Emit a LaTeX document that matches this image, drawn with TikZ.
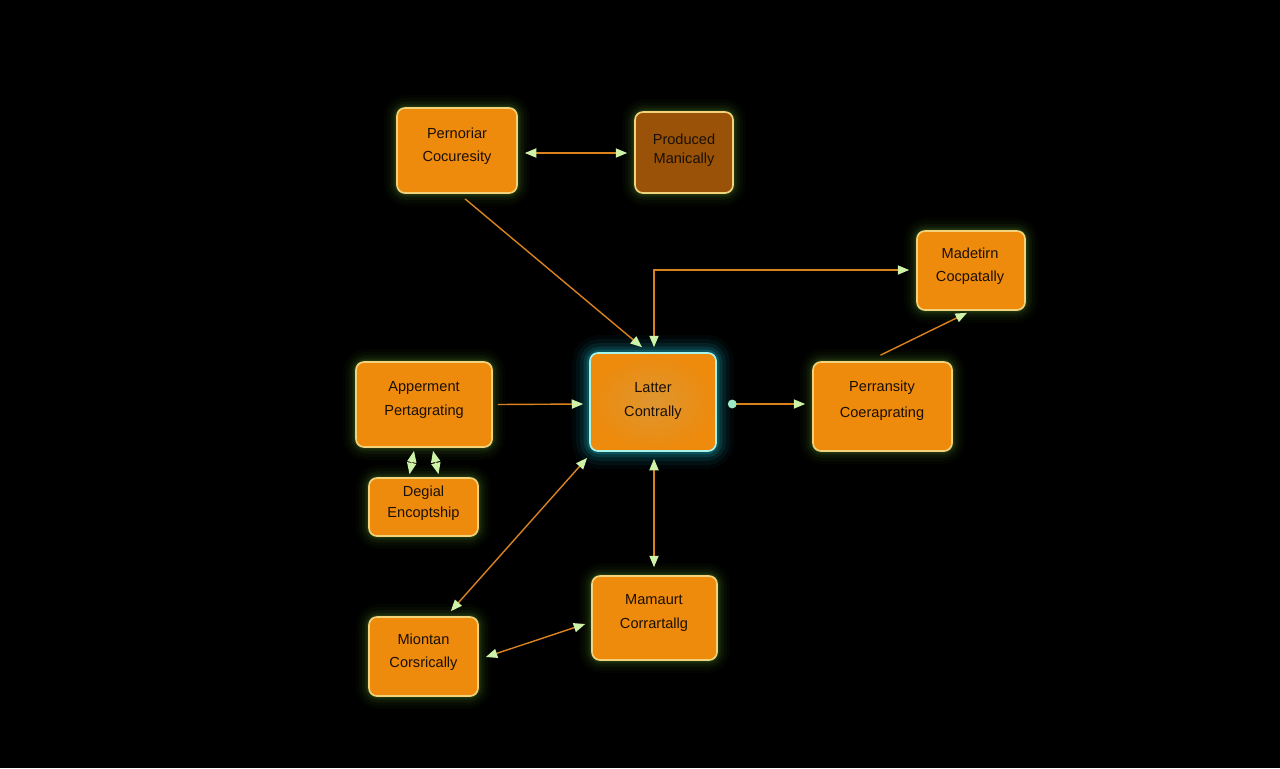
\documentclass[tikz,border=0pt]{standalone}
\usepackage{fontspec}
\setmainfont{Liberation Sans}
\usetikzlibrary{arrows.meta,backgrounds,calc}
\definecolor{boxfill}{HTML}{EE8A0C}
\definecolor{boxdark}{HTML}{9A5208}
\definecolor{boxline}{HTML}{F2D27A}
\definecolor{glowc}{HTML}{6FB038}
\definecolor{cyanline}{HTML}{A8F4EA}
\definecolor{cyanglow}{HTML}{22C8D8}
\definecolor{edgec}{HTML}{D9821E}
\definecolor{tipc}{HTML}{CDF2A8}
\definecolor{dotc}{HTML}{9CE8C4}
\definecolor{txt}{HTML}{1A1005}
\tikzset{
  box/.style 2 args={draw=boxline, line width=0.95pt, fill=boxfill, rounded corners=0.16cm,
    minimum width=#1*0.02cm, minimum height=#2*0.02cm, inner sep=0pt},
  lbl/.style={text=txt, font=\fontsize{8.3}{10}\selectfont, inner sep=0pt},
  conn/.style={draw=edgec, line width=0.8pt},
  tip/.style={-{Triangle[length=6.5pt,width=5.2pt,color=tipc]}},
  both/.style={{Triangle[length=6.5pt,width=5.2pt,color=tipc]}-{Triangle[length=6.5pt,width=5.2pt,color=tipc]}},
}
\begin{document}
\begin{tikzpicture}[x=0.02cm,y=-0.02cm]
\useasboundingbox (0,0) rectangle (1280,768);
% boxes
\node[box={120}{85}] (p) at (457,150.5) {};
\node[box={98}{81}, fill=boxdark] (prod) at (684,152.5) {};
\node[box={108}{79}] (mad) at (971,270.5) {};
\node[box={136}{85}] (app) at (424,404.5) {};
\node[box={126}{98}, draw=cyanline, shading=radial, inner color={rgb,255:red,222;green,150;blue,48}, outer color=boxfill] (lat) at (653,402) {};
\node[box={139}{89}] (perr) at (882.5,406.5) {};
\node[box={109}{58}] (deg) at (423.5,507) {};
\node[box={125}{84}] (mam) at (654.5,618) {};
\node[box={109}{79}] (mion) at (423.5,656.5) {};
% labels
\node[lbl] (p1) at (457,133) {Pernoriar};
\node[lbl] (p2) at (457,158) {Cocuresity};
\node[lbl] (prod1) at (684,139) {Produced};
\node[lbl] (prod2) at (684,160) {Manically};
\node[lbl] (mad1) at (970,253) {Madetirn};
\node[lbl] (mad2) at (970,278) {Cocpatally};
\node[lbl] (app1) at (424,388) {Apperment};
\node[lbl] (app2) at (424,412) {Pertagrating};
\node[lbl] (lat1) at (653,388) {Latter};
\node[lbl] (lat2) at (653,413) {Contrally};
\node[lbl] (perr1) at (882,388) {Perransity};
\node[lbl] (perr2) at (882,414) {Coeraprating};
\node[lbl] (deg1) at (423.5,493) {Degial};
\node[lbl] (deg2) at (423.5,514) {Encoptship};
\node[lbl] (mam1) at (654,600) {Mamaurt};
\node[lbl] (mam2) at (654,625) {Corrartallg};
\node[lbl] (mion1) at (423.5,639) {Miontan};
\node[lbl] (mion2) at (423.5,664) {Corsrically};
% connectors
\draw[conn,both] ($(p.east)+(7,2.5)$) -- ($(prod.west)+(-7,0.5)$);
\draw[conn,tip] ($(p.south)+(8,5)$) -- ($(lat.north)+(-11,-5)$);
\draw[conn,both] ($(mad.west)+(-7,-0.5)$) -| ($(lat.north)+(1,-5)$);
\draw[conn,tip] ($(app.east)+(5,0)$) -- ($(lat.west)+(-6,2)$);
\draw[conn,{Circle[length=5pt,color=dotc]}-{Triangle[length=6.5pt,width=5.2pt,color=tipc]}] ($(lat.east)+(11,2)$) -- ($(perr.west)+(-7,-2.5)$);
\draw[conn,tip] ($(perr.north)+(-2,-6)$) -- ($(mad.south)+(-4,2)$);
\draw[conn,both] ($(deg.north)+(-14,-3)$) -- ($(app.south)+(-10,3)$);
\draw[conn,both] ($(deg.north)+(15,-3)$) -- ($(app.south)+(9,3)$);
\draw[conn,both] ($(lat.south)+(1,7)$) -- ($(mam.north)+(-0.5,-8)$);
\draw[conn,both] ($(lat.south west)+(-2,6)$) -- ($(mion.north east)+(-28,-5)$);
\draw[conn,both] ($(mion.east)+(7,0.5)$) -- ($(mam.west)+(-6,6)$);
% background and glows
\begin{scope}[on background layer]
\fill[black] (0,0) rectangle (1280,768);
\foreach \n in {p,prod,mad,app,perr,deg,mam,mion}{
  \foreach \w/\o in {24/0.03,18/0.045,12/0.06,7/0.09,3/0.14}{
    \draw[glowc, line width=\w*0.02cm, opacity=\o, rounded corners=0.2cm] (\n.south west) rectangle (\n.north east);
  }
}
\foreach \w/\o in {34/0.04,26/0.06,18/0.09,11/0.13,5/0.2}{
  \draw[cyanglow, line width=\w*0.02cm, opacity=\o, rounded corners=0.2cm] (lat.south west) rectangle (lat.north east);
}
\end{scope}
\end{tikzpicture}
\end{document}
